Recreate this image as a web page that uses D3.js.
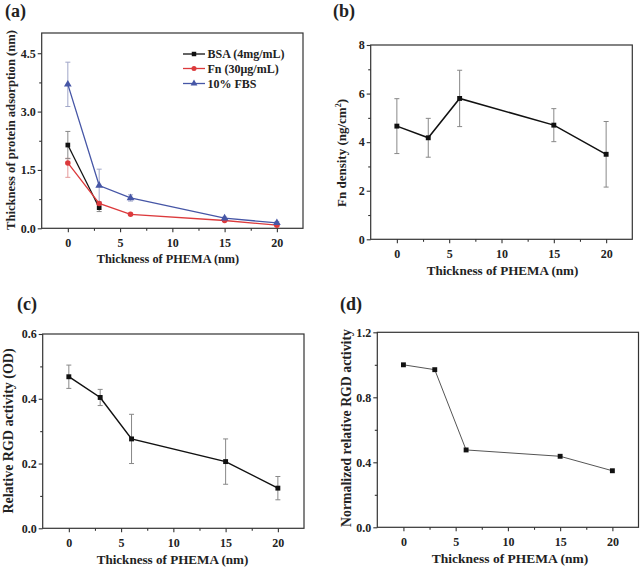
<!DOCTYPE html>
<html><head><meta charset="utf-8">
<script src="https://cdn.jsdelivr.net/npm/d3@7"></script>
<style>
html,body{margin:0;padding:0;background:#fff;}
text{font-family:"Liberation Serif","Times New Roman",serif;font-weight:bold;fill:#222;}
</style></head>
<body><svg id="chart" width="640" height="568"></svg>
<script>
// ---------- data ----------
const xTicks = [0, 5, 10, 15, 20];
const xMinor = [2.5, 7.5, 12.5, 17.5];
const thickness = [0, 3, 6, 15, 20];
const bsaX = [0, 3];
const bsaY = [2.14, 0.53];
const bsaErr = [0.35, 0.10];
const fnY = [1.68, 0.64, 0.36, 0.20, 0.08];
const fnErrUp = [0.12, 0.03, 0.02, 0.02, 0.02];
const fnErrDown = [0.37, 0.03, 0.02, 0.02, 0.02];
const fbsY = [3.70, 1.10, 0.78, 0.26, 0.14];
const fbsErr = [0.57, 0.42, 0.08, 0.03, 0.03];
const fnDensity = [4.66, 4.18, 5.80, 4.70, 3.50];
const fnDensityErr = [1.13, 0.80, 1.16, 0.68, 1.35];
const rgdActivity = [0.468, 0.404, 0.276, 0.206, 0.124];
const rgdErr = [0.036, 0.025, 0.076, 0.070, 0.036];
const normRgd = [1.00, 0.97, 0.476, 0.437, 0.348];
const yTicksA = [0, 1.5, 3.0, 4.5], yMinorA = [0.75, 2.25, 3.75];
const yTicksB = [0, 2, 4, 6, 8], yMinorB = [1, 3, 5, 7];
const yTicksC = [0, 0.2, 0.4, 0.6], yMinorC = [0.1, 0.3, 0.5];
const yTicksD = [0, 0.4, 0.8, 1.2], yMinorD = [0.2, 0.6, 1.0];
const legendLabels = ["BSA (4mg/mL)", "Fn (30μg/mL)", "10% FBS"];
const panelLabels = ["(a)", "(b)", "(c)", "(d)"];
const xTitle = "Thickness of PHEMA (nm)";

const svg = d3.select("#chart");

function panel(o) {
  const g = svg.append("g");
  const x = d3.scaleLinear().domain([-2.5, 22.5]).range([o.l, o.r]);
  const y = d3.scaleLinear().domain(o.yDomain).range([o.b, o.t]);
  g.append("rect").attr("x", o.l).attr("y", o.t).attr("width", o.r - o.l).attr("height", o.b - o.t)
    .attr("fill", "none").attr("stroke", "#333").attr("stroke-width", 1.2);
  const xa = g.append("g").attr("transform", `translate(0,${o.b})`)
    .call(d3.axisBottom(x).tickValues(xTicks).tickSize(4).tickPadding(6).tickSizeOuter(0));
  const xm = g.append("g").attr("transform", `translate(0,${o.b})`)
    .call(d3.axisBottom(x).tickValues(xMinor).tickSize(2.5).tickFormat("").tickSizeOuter(0));
  const ya = g.append("g").attr("transform", `translate(${o.l},0)`)
    .call(d3.axisLeft(y).tickValues(o.yTicks).tickFormat(d3.format(o.fmt)).tickSize(4).tickPadding(2).tickSizeOuter(0));
  const ym = g.append("g").attr("transform", `translate(${o.l},0)`)
    .call(d3.axisLeft(y).tickValues(o.yMinor).tickSize(2.5).tickFormat("").tickSizeOuter(0));
  [xa, xm, ya, ym].forEach(a => {
    a.select(".domain").remove();
    a.selectAll("line").attr("stroke", "#333").attr("stroke-width", 1.1);
    a.selectAll("text").attr("font-size", 12).attr("font-family", "Liberation Serif").attr("font-weight", "bold").attr("fill", "#222");
  });
  g.append("text").attr("x", (o.xTitleX)).attr("y", o.xTitleY).attr("text-anchor", "middle")
    .attr("font-size", o.xTitleSize).text(xTitle);
  const yt = g.append("text").attr("transform", `translate(${o.yTitleX},${o.yTitleY}) rotate(-90)`)
    .attr("text-anchor", "middle").attr("font-size", o.yTitleSize);
  o.yTitle(yt);
  g.append("text").attr("x", o.labX).attr("y", o.labY).attr("font-size", 18).text(o.label);
  return {g, x, y};
}

function errorBars(g, x, y, xs, ys, up, down, color) {
  const cap = 2.5;
  xs.forEach((xv, i) => {
    const px = x(xv), y1 = y(ys[i] + up[i]), y2 = y(ys[i] - down[i]);
    g.append("line").attr("x1", px).attr("x2", px).attr("y1", y1).attr("y2", y2).attr("stroke", color).attr("stroke-width", 1);
    g.append("line").attr("x1", px - cap).attr("x2", px + cap).attr("y1", y1).attr("y2", y1).attr("stroke", color).attr("stroke-width", 1);
    g.append("line").attr("x1", px - cap).attr("x2", px + cap).attr("y1", y2).attr("y2", y2).attr("stroke", color).attr("stroke-width", 1);
  });
}
function series(g, x, y, xs, ys, color, width, sym, size, markColor) {
  const pts = xs.map((v, i) => [v, ys[i]]);
  g.append("path").attr("d", d3.line().x(d => x(d[0])).y(d => y(d[1]))(pts))
    .attr("fill", "none").attr("stroke", color).attr("stroke-width", width);
  g.selectAll(null).data(pts).enter().append("path")
    .attr("transform", d => `translate(${x(d[0])},${y(d[1])})`)
    .attr("d", d3.symbol().type(sym).size(size)).attr("fill", markColor || color);
}

const black = "#111", red = "#dc3a3c", blue = "#4656a6";

// ---- (a) ----
{
  const p = panel({l: 41.7, r: 303, t: 33, b: 228.3, yDomain: [0, 5.02], yTicks: yTicksA, yMinor: yMinorA, fmt: ".1f",
    xTitleX: 168, xTitleY: 263, xTitleSize: 12.3, yTitleX: 15, yTitleY: 130, yTitleSize: 12.6,
    yTitle: t => t.text("Thickness of protein adsorption (nm)"), labX: 5, labY: 17, label: panelLabels[0]});
  errorBars(p.g, p.x, p.y, thickness, fnY, fnErrUp, fnErrDown, "#e59a9a");
  errorBars(p.g, p.x, p.y, thickness, fbsY, fbsErr, fbsErr, "#a0a6c8");
  errorBars(p.g, p.x, p.y, bsaX, bsaY, bsaErr, bsaErr, "#888");
  series(p.g, p.x, p.y, bsaX, bsaY, black, 1.3, d3.symbolSquare, 22);
  series(p.g, p.x, p.y, thickness, fnY, red, 1.3, d3.symbolCircle, 24);
  series(p.g, p.x, p.y, thickness, fbsY, blue, 1.3, d3.symbolTriangle, 26);
  const cols = [black, red, blue], syms = [d3.symbolSquare, d3.symbolCircle, d3.symbolTriangle];
  const rowsY = [54, 68.5, 83.5];
  legendLabels.forEach((lab, i) => {
    p.g.append("line").attr("x1", 183).attr("x2", 205).attr("y1", rowsY[i]).attr("y2", rowsY[i]).attr("stroke", cols[i]).attr("stroke-width", 1.3);
    p.g.append("path").attr("transform", `translate(194,${rowsY[i]})`).attr("d", d3.symbol().type(syms[i]).size(20)).attr("fill", cols[i]);
    p.g.append("text").attr("x", 207.5).attr("y", rowsY[i] + 4.3).attr("font-size", 12).text(lab);
  });
}
// ---- (b) ----
{
  const p = panel({l: 370.7, r: 632.3, t: 45, b: 239.3, yDomain: [0, 8], yTicks: yTicksB, yMinor: yMinorB, fmt: "d",
    xTitleX: 502.5, xTitleY: 275, xTitleSize: 13.1, yTitleX: 346, yTitleY: 153, yTitleSize: 13,
    yTitle: t => { t.append("tspan").text("Fn density (ng/cm"); t.append("tspan").attr("font-size", 8).attr("dy", -5).text("2"); t.append("tspan").attr("dy", 5).text(")"); },
    labX: 333, labY: 17, label: panelLabels[1]});
  errorBars(p.g, p.x, p.y, thickness, fnDensity, fnDensityErr, fnDensityErr, "#888");
  series(p.g, p.x, p.y, thickness, fnDensity, black, 1.5, d3.symbolSquare, 24);
}
// ---- (c) ----
{
  const p = panel({l: 42.7, r: 304, t: 334, b: 528.3, yDomain: [0, 0.6], yTicks: yTicksC, yMinor: yMinorC, fmt: ".1f",
    xTitleX: 172.5, xTitleY: 564, xTitleSize: 13.1, yTitleX: 13, yTitleY: 431, yTitleSize: 14,
    yTitle: t => t.text("Relative RGD activity (OD)"), labX: 17, labY: 310, label: panelLabels[2]});
  errorBars(p.g, p.x, p.y, thickness, rgdActivity, rgdErr, rgdErr, "#888");
  series(p.g, p.x, p.y, thickness, rgdActivity, black, 1.5, d3.symbolSquare, 24);
}
// ---- (d) ----
{
  const p = panel({l: 377.3, r: 638.5, t: 332.3, b: 527.3, yDomain: [0, 1.2], yTicks: yTicksD, yMinor: yMinorD, fmt: ".1f",
    xTitleX: 510, xTitleY: 563, xTitleSize: 13.5, yTitleX: 351, yTitleY: 428, yTitleSize: 13.8,
    yTitle: t => t.text("Normalized relative RGD activity"), labX: 340, labY: 310, label: panelLabels[3]});
  series(p.g, p.x, p.y, thickness, normRgd, "#555", 1, d3.symbolSquare, 24, "#111");
}
</script></body></html>
